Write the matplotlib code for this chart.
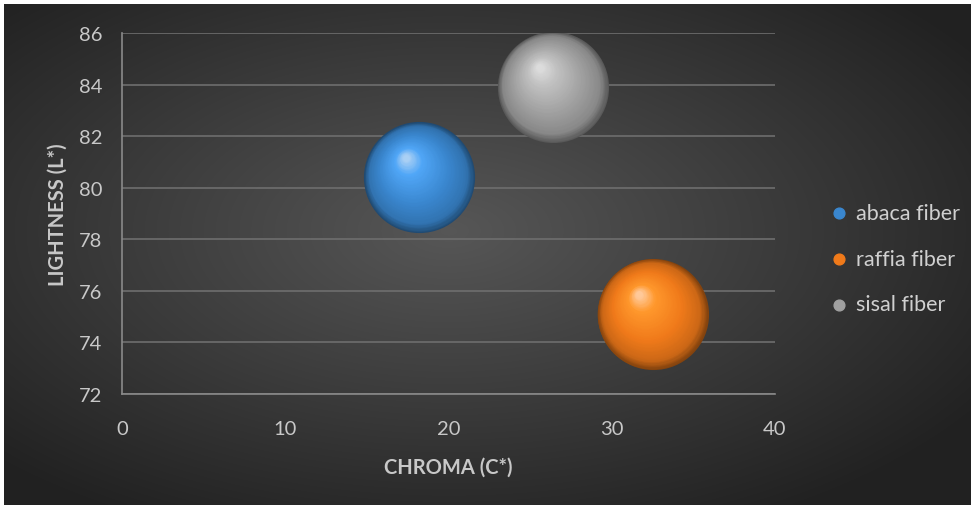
import matplotlib.pyplot as plt
import matplotlib.transforms as mtransforms
import numpy as np
from matplotlib.colors import to_rgb, LinearSegmentedColormap

# Colour of fibres in CIE L*C* space
fibers = ["abaca fiber", "raffia fiber", "sisal fiber"]
chroma = [18.2, 32.5, 26.4]
lightness = [80.4, 75.1, 83.9]
bubble_size = [1.0, 1.0, 1.0]
colors = ["#3a87cf", "#f07a1a", "#a0a0a0"]

x_ticks = [0, 10, 20, 30, 40]
y_ticks = [72, 74, 76, 78, 80, 82, 84, 86]

plt.rcParams['font.family'] = ['Lato', 'DejaVu Sans']

W, H = 972, 506
fig = plt.figure(figsize=(W / 100, H / 100), dpi=100, facecolor="white")

# dark background with a soft radial glow
bg = fig.add_axes([4 / W, -0.01, 1 - 6 / W, 1.01 - 5 / H])
bg.set_axis_off()
yy, xx = np.mgrid[0:1:300j, 0:1:600j]
r = np.sqrt(((xx - 0.46) / 0.75) ** 2 + ((yy - 0.45) / 0.75) ** 2)
shade = np.clip(0.34 - 0.24 * r, 0.13, 0.35)
bg.imshow(np.dstack([shade] * 3), extent=[0, 1, 0, 1], aspect="auto",
          interpolation="bicubic")

ax = fig.add_axes([122 / W, 1 - 395 / H, (775 - 122) / W, (395 - 34) / H])
ax.patch.set_alpha(0)


def sphere(ax, x, y, base, size, radius_pt=40, steps=70):
    """Fake a lit sphere by stacking shrinking discs moving toward the highlight."""
    base = np.array(to_rgb(base))
    cmap = LinearSegmentedColormap.from_list("s", [
        (0.0, base * 0.55),
        (0.12, base * 0.85),
        (0.4, base),
        (0.8, np.clip(base * 1.12 + 0.06, 0, 1)),
        (1.0, np.clip(base * 0.5 + 0.55, 0, 1)),
    ])
    R = radius_pt * size
    for k in range(steps):
        t = k / (steps - 1)
        frac = 1 - t * 0.94
        dx = -0.26 * R * (1 - frac)
        dy = 0.38 * R * (1 - frac)
        off = mtransforms.offset_copy(ax.transData, fig=fig, x=dx, y=dy, units="points")
        ax.scatter([x], [y], s=(2 * R * frac) ** 2, color=cmap(t), transform=off,
                   linewidths=0, zorder=3 + k * 0.001)


for xi, yi, c, s in zip(chroma, lightness, colors, bubble_size):
    sphere(ax, xi, yi, c, s)

# legend markers
for name, c in zip(fibers, colors):
    ax.scatter([], [], s=60, color=c, label=name)
leg = ax.legend(loc="center left", bbox_to_anchor=(1.035, 0.375), frameon=False,
                labelcolor="#d0d0d0", fontsize=15.5, handletextpad=-0.2,
                labelspacing=1.2, markerscale=1.0)

ax.set_xlim(0, 40)
ax.set_ylim(72, 86)
ax.set_xticks(x_ticks)
ax.set_yticks(y_ticks)
ax.tick_params(colors="#c8c8c8", labelsize=14.5, length=0)
ax.tick_params(axis="x", pad=19)
ax.tick_params(axis="y", pad=14)
ax.grid(axis="y", color="#6e6e6e", linewidth=1.2)
ax.set_axisbelow(True)
for side in ["top", "right"]:
    ax.spines[side].set_visible(False)
for side in ["left", "bottom"]:
    ax.spines[side].set_color("#8a8a8a")
    ax.spines[side].set_linewidth(1.2)

ax.set_xlabel("CHROMA (C*)", color="#c8c8c8", fontsize=14.5, fontweight="bold", labelpad=14)
ax.set_ylabel("LIGHTNESS (L*)", color="#c8c8c8", fontsize=14.5, fontweight="bold", labelpad=8)

fig.savefig("out.png", dpi=100, facecolor="white")
